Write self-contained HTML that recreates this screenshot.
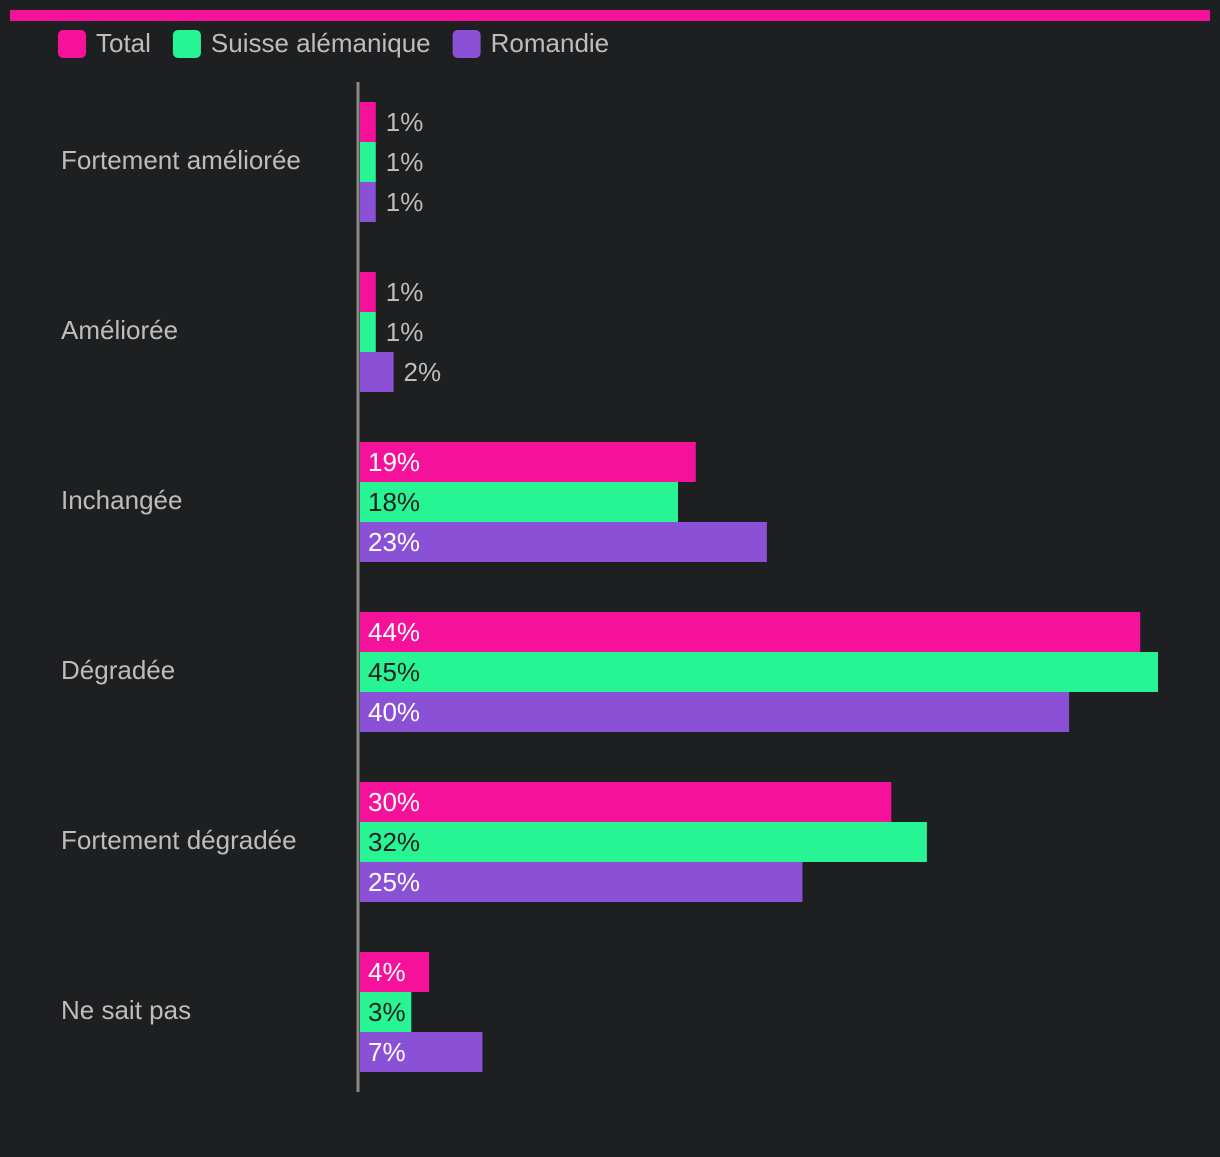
<!DOCTYPE html>
<html><head><meta charset="utf-8"><style>
html,body{margin:0;padding:0;background:#1e1f21;}
body{width:1220px;height:1152px;overflow:hidden;font-family:"Liberation Sans","DejaVu Sans",sans-serif;}
</style></head><body>
<svg id="chart" width="1220" height="1152" xmlns="http://www.w3.org/2000/svg">
<rect x="0" y="0" width="1220" height="1152" fill="#1e1f21"/>
<rect x="10" y="10" width="1200" height="11" fill="#f5119a"/>
<g id="legend"></g>
<g id="bars"></g>
<line x1="358" y1="82" x2="358" y2="1092" stroke="#8a8a8a" stroke-width="3"/>
</svg>
<script>
const categories = ["Fortement améliorée","Améliorée","Inchangée","Dégradée","Fortement dégradée","Ne sait pas"];
const seriesNames = ["Total","Suisse alémanique","Romandie"];
const totalValues = [1,1,19,44,30,4];
const alemValues = [1,1,18,45,32,3];
const romValues = [1,2,23,40,25,7];
const colors = ["#f5119a","#27f593","#8a50d6"];
const insideText = ["#ffffff","#1e1f21","#ffffff"];
const series = [totalValues, alemValues, romValues];
const NS = "http://www.w3.org/2000/svg";
const x0 = 360, pxPer = 800/45;
const xScale = v => x0 + v*pxPer - 2;
const groupCenter = i => 160 + i*170;
const barH = 40;
function mk(tag, attrs){const e=document.createElementNS(NS,tag);for(const k in attrs)e.setAttribute(k,attrs[k]);return e;}
const legend = document.getElementById('legend');
let lx = 58;
const legendWidths = [];
seriesNames.forEach((n,i)=>{
  const g = mk('g',{});
  
  
  g.appendChild(mk('rect',{x:lx,y:30,width:28,height:28,rx:5,fill:colors[i]}));
  const t = mk('text',{x:lx+38,y:52,fill:'#bdbdbd','font-size':26});
  t.textContent = n;
  g.appendChild(t);
  legend.appendChild(g);
  lx += 38 + t.getComputedTextLength() + 22;
});
const bars = document.getElementById('bars');
categories.forEach((c,i)=>{
  const cy = groupCenter(i);
  const lab = mk('text',{x:61,y:cy+9,fill:'#bdbdbd','font-size':26});
  
  
  lab.textContent = c;
  bars.appendChild(lab);
  series.forEach((arr,s)=>{
    const v = arr[i];
    const y = cy - 58 + s*barH;
    const w = xScale(v) - x0;
    const r = mk('rect',{x:x0,y:y,width:Math.max(w,0),height:barH,fill:colors[s]});
    
    
    bars.appendChild(r);
    const t = mk('text',{'font-size':26,y:y+29});
    
    
    t.textContent = v+'%';
    bars.appendChild(t);
    t.setAttribute('x',x0+8);
    const tw = t.getComputedTextLength();
    if (tw + 8 <= w) { t.setAttribute('fill',insideText[s]); }
    else { t.setAttribute('x',x0+w+10); t.setAttribute('fill','#bdbdbd'); }
  });
});
</script>
</body></html>
